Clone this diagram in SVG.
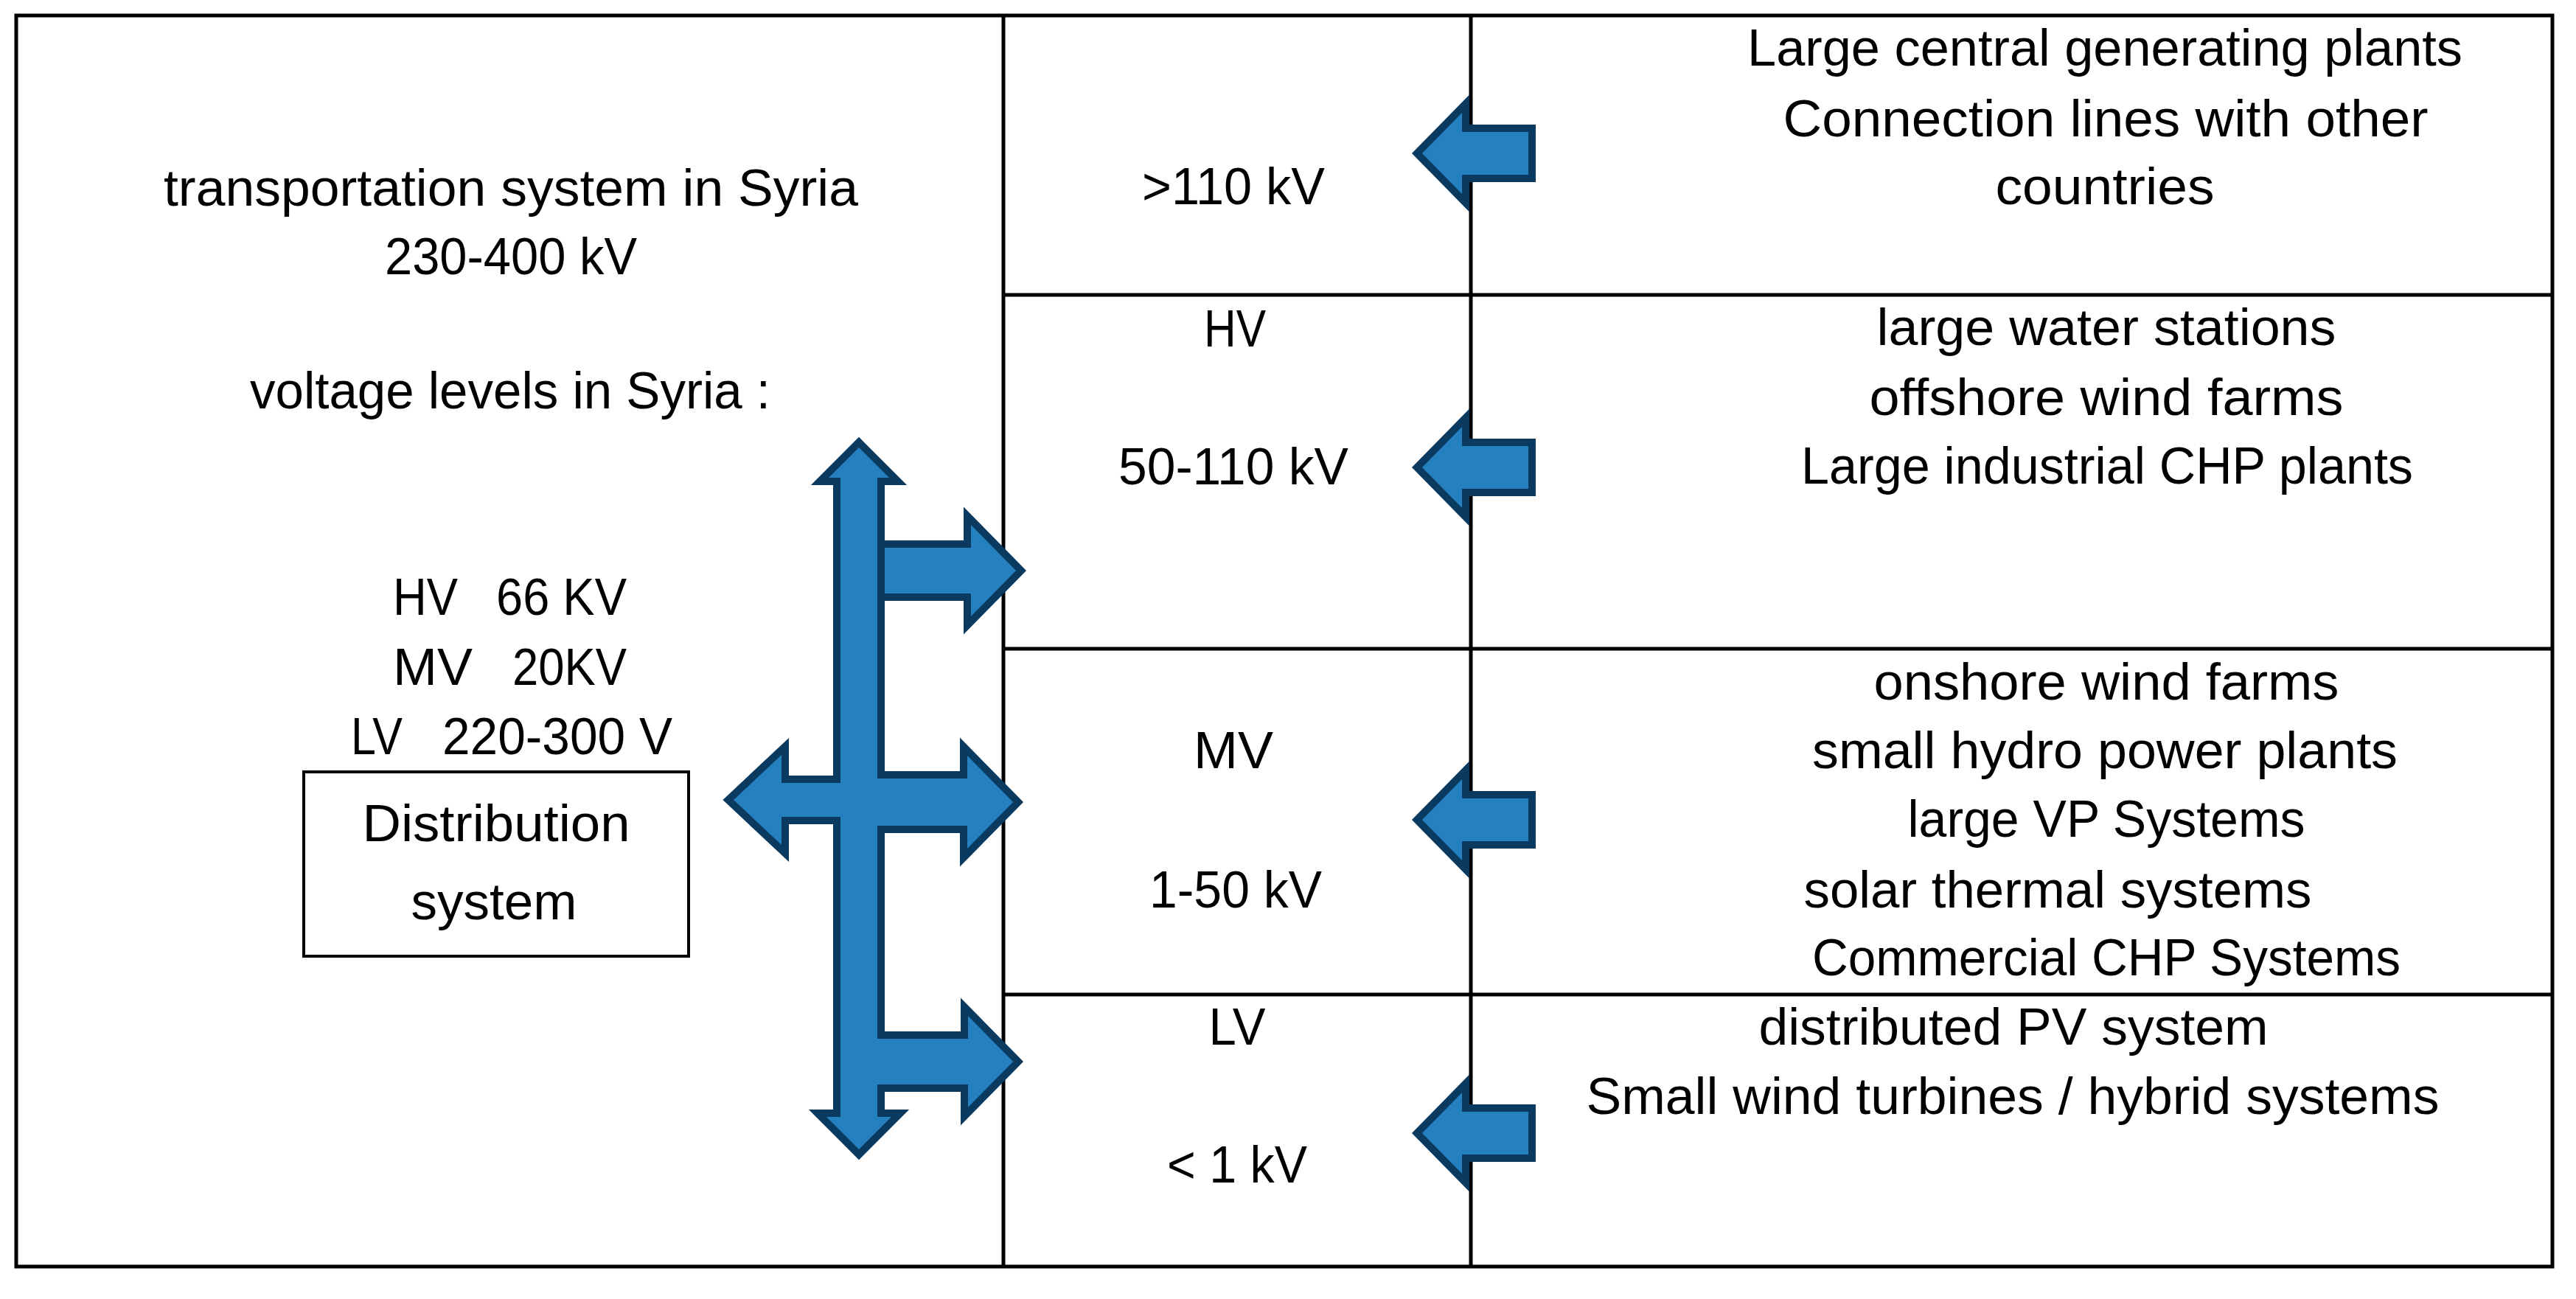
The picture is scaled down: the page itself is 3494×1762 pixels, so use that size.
<svg xmlns="http://www.w3.org/2000/svg" width="3494" height="1762" viewBox="0 0 3494 1762">
<style>
.t{font-family:"Liberation Sans",Arial,sans-serif;font-size:71px;fill:#000}
.m{text-anchor:middle}
.ln{stroke:#000;stroke-width:5;fill:none}
.box{stroke:#000;stroke-width:4;fill:none}
.as{fill:#2580c0;stroke:#0a3a60;stroke-width:20;stroke-linejoin:miter}
.af{fill:#2580c0;stroke:none}
</style>
<defs>
<polygon id="la" points="1929,0 1983,-55 1983,-29 2073,-29 2073,29 1983,29 1983,55"/>
<polygon id="ra" points="1190,-31 1317,-31 1317,-62 1378,0 1317,62 1317,31 1190,31"/>
<polygon id="va" points="1165,607 1206,648 1190,648 1190,1515 1209,1515 1165,1559 1121,1515 1140,1515 1140,648 1124,648"/>
<polygon id="mva" points="995,1085 1060,1024 1060,1062 1165,1062 1165,1056 1312,1056 1312,1025 1374,1088 1312,1151 1312,1120 1165,1120 1165,1108 1060,1108 1060,1146"/>
</defs>
<rect width="3494" height="1762" fill="#fff"/>
<g id="table">
<rect class="ln" x="22" y="21" width="3440" height="1697"/>
<line class="ln" x1="1361" y1="21" x2="1361" y2="1718"/>
<line class="ln" x1="1995" y1="21" x2="1995" y2="1718"/>
<line class="ln" x1="1361" y1="400" x2="3462" y2="400"/>
<line class="ln" x1="1361" y1="880" x2="3462" y2="880"/>
<line class="ln" x1="1361" y1="1349" x2="3462" y2="1349"/>
</g>
<g id="transport-info">
<text class="t m" x="693" y="279" textLength="942" lengthAdjust="spacingAndGlyphs">transportation system in Syria</text>
<text class="t m" x="693" y="372" textLength="342" lengthAdjust="spacingAndGlyphs">230-400 kV</text>
<text class="t m" x="692" y="554" textLength="706" lengthAdjust="spacingAndGlyphs">voltage levels in Syria :</text>
<text class="t" x="533" y="834" textLength="88" lengthAdjust="spacingAndGlyphs">HV</text>
<text class="t" x="673" y="834" textLength="177" lengthAdjust="spacingAndGlyphs">66 KV</text>
<text class="t" x="533" y="929" textLength="108" lengthAdjust="spacingAndGlyphs">MV</text>
<text class="t" x="695" y="929" textLength="155" lengthAdjust="spacingAndGlyphs">20KV</text>
<text class="t" x="476" y="1023" textLength="70" lengthAdjust="spacingAndGlyphs">LV</text>
<text class="t" x="600" y="1023" textLength="312" lengthAdjust="spacingAndGlyphs">220-300 V</text>
</g>
<g id="distribution-system">
<rect class="box" x="412" y="1047" width="522" height="250"/>
<text class="t m" x="673" y="1141" textLength="363" lengthAdjust="spacingAndGlyphs">Distribution</text>
<text class="t m" x="670" y="1247" textLength="225" lengthAdjust="spacingAndGlyphs">system</text>
</g>
<g id="level-110">
<text class="t m" x="1673" y="277" textLength="248" lengthAdjust="spacingAndGlyphs">&gt;110 kV</text>
</g>
<g id="level-hv">
<text class="t m" x="1675" y="470" textLength="84" lengthAdjust="spacingAndGlyphs">HV</text>
<text class="t m" x="1673" y="657" textLength="312" lengthAdjust="spacingAndGlyphs">50-110 kV</text>
</g>
<g id="level-mv">
<text class="t m" x="1673" y="1042" textLength="108" lengthAdjust="spacingAndGlyphs">MV</text>
<text class="t m" x="1676" y="1231" textLength="234" lengthAdjust="spacingAndGlyphs">1-50 kV</text>
</g>
<g id="level-lv">
<text class="t m" x="1678" y="1417" textLength="77" lengthAdjust="spacingAndGlyphs">LV</text>
<text class="t m" x="1678" y="1604" textLength="190" lengthAdjust="spacingAndGlyphs">&lt; 1 kV</text>
</g>
<g id="sources-110">
<text class="t m" x="2855" y="89" textLength="970" lengthAdjust="spacingAndGlyphs">Large central generating plants</text>
<text class="t m" x="2856" y="185" textLength="875" lengthAdjust="spacingAndGlyphs">Connection lines with other</text>
<text class="t m" x="2855" y="277" textLength="297" lengthAdjust="spacingAndGlyphs">countries</text>
</g>
<g id="sources-hv">
<text class="t m" x="2857" y="468" textLength="623" lengthAdjust="spacingAndGlyphs">large water stations</text>
<text class="t m" x="2857" y="563" textLength="643" lengthAdjust="spacingAndGlyphs">offshore wind farms</text>
<text class="t m" x="2858" y="656" textLength="830" lengthAdjust="spacingAndGlyphs">Large industrial CHP plants</text>
</g>
<g id="sources-mv">
<text class="t m" x="2857" y="949" textLength="631" lengthAdjust="spacingAndGlyphs">onshore wind farms</text>
<text class="t m" x="2855" y="1042" textLength="794" lengthAdjust="spacingAndGlyphs">small hydro power plants</text>
<text class="t m" x="2857" y="1135" textLength="539" lengthAdjust="spacingAndGlyphs">large VP Systems</text>
<text class="t m" x="2791" y="1231" textLength="689" lengthAdjust="spacingAndGlyphs">solar thermal systems</text>
<text class="t m" x="2857" y="1323" textLength="798" lengthAdjust="spacingAndGlyphs">Commercial CHP Systems</text>
</g>
<g id="sources-lv">
<text class="t m" x="2731" y="1417" textLength="691" lengthAdjust="spacingAndGlyphs">distributed PV system</text>
<text class="t m" x="2730" y="1511" textLength="1157" lengthAdjust="spacingAndGlyphs">Small wind turbines / hybrid systems</text>
</g>
<g id="connectors">
<use href="#ra" y="774" class="as"/>
<use href="#ra" y="774" class="af"/>
<use href="#va" class="as"/>
<use href="#mva" class="as"/>
<use href="#ra" x="-4" y="1440" class="as"/>
<use href="#va" class="af"/>
<use href="#mva" class="af"/>
<use href="#ra" x="-4" y="1440" class="af"/>
<use href="#la" y="208" class="as"/>
<use href="#la" y="208" class="af"/>
<use href="#la" y="634" class="as"/>
<use href="#la" y="634" class="af"/>
<use href="#la" y="1112" class="as"/>
<use href="#la" y="1112" class="af"/>
<use href="#la" y="1537" class="as"/>
<use href="#la" y="1537" class="af"/>
</g>
</svg>
